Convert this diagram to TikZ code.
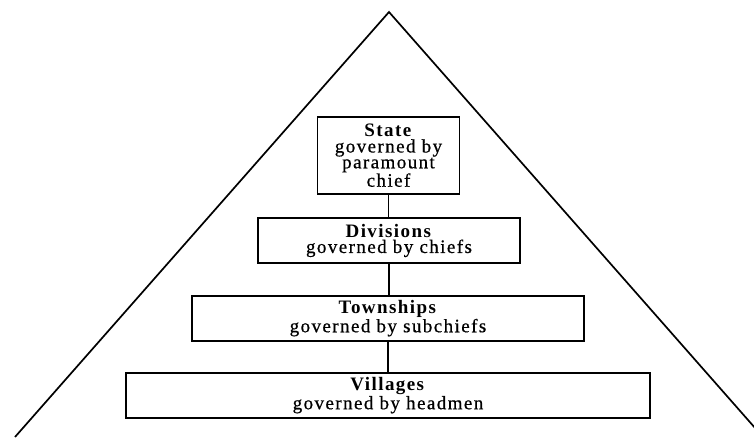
\documentclass[tikz,border=0pt]{standalone}
\usepackage{fontspec}
\setmainfont[LetterSpace=7.5,FakeBold=0.6,BoldFeatures={FakeBold=0}]{Liberation Serif}
\begin{document}
\begin{tikzpicture}[x=1pt,y=-1pt,
  lvl/.style={draw,line width=1.7pt,align=center,inner sep=0pt,
    font=\fontsize{19}{15.8}\selectfont},
  link/.style={line width=1.1pt}]
\useasboundingbox (0,0) rectangle (754,437);
\begin{scope}
\clip (0,0) rectangle (754,437);
\coordinate (apex) at (389,12);
\coordinate (bl) at (15,437);
\coordinate (br) at (763,437);
\draw[line width=1.7pt,line join=miter] (bl) -- (apex) -- (br);
\end{scope}
\node[lvl,minimum width=142pt,minimum height=77pt] (state) at (388.5,155.5)
  {\textbf{State}\\governed by\\paramount\\chief};
\node[lvl,minimum width=262pt,minimum height=45pt] (div) at (389,240.5)
  {\textbf{Divisions}\\governed by chiefs};
\node[lvl,minimum width=392pt,minimum height=45pt] (town) at (388,318.5)
  {\textbf{Townships}\\governed by subchiefs};
\node[lvl,minimum width=524pt,minimum height=45pt] (vill) at (388,395.5)
  {\textbf{Villages}\\governed by headmen};
\draw[link] (state.south) -- (state.south |- div.north);
\draw[link] (div.south) -- (div.south |- town.north);
\draw[link] (town.south) -- (town.south |- vill.north);
\end{tikzpicture}
\end{document}
